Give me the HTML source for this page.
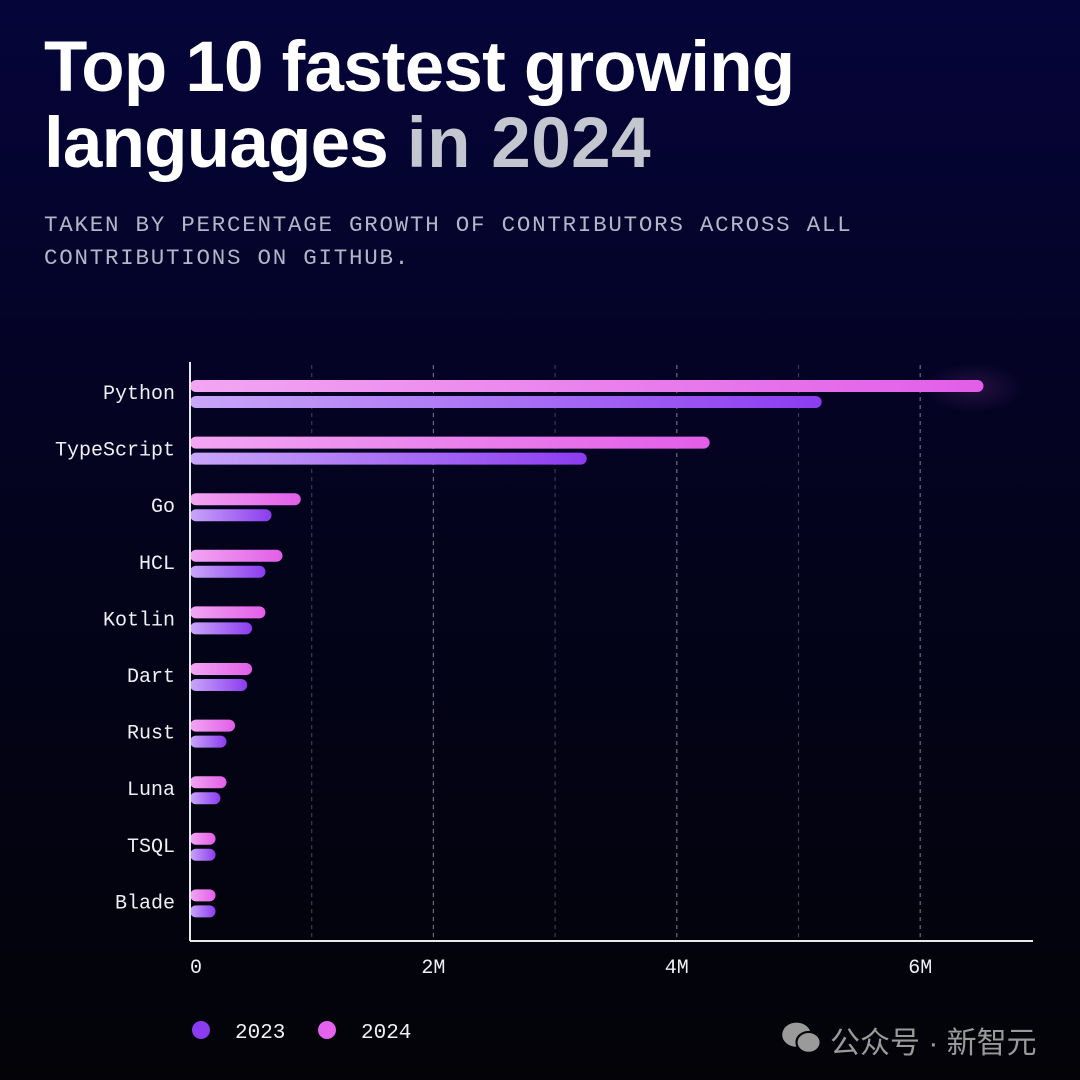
<!DOCTYPE html>
<html><head><meta charset="utf-8"><style>
html,body{margin:0;padding:0}
body{width:1080px;height:1080px;overflow:hidden;background:linear-gradient(180deg,#05053a 0%,#040327 30%,#03031a 55%,#030308 100%);position:relative;font-family:"Liberation Sans",sans-serif}
.title{position:absolute;left:44px;top:30px;color:#fff;font-weight:bold;font-size:71px;line-height:76px;letter-spacing:-0.8px;margin:0}
.title span{color:#c4c6d0;letter-spacing:0.5px}
.sub{position:absolute;left:44px;top:209px;color:#b4b6c8;font-family:"Liberation Mono",monospace;font-size:22.5px;line-height:33px;letter-spacing:1.75px;margin:0}
svg{position:absolute;left:0;top:0}
.wm{position:absolute;left:830px;top:1018px;color:#9a9a9a;font-family:"Liberation Sans","Noto Sans CJK SC",sans-serif;font-size:30px}
.wmi{position:absolute;left:780px;top:1020px;width:44px;height:36px}
</style></head><body>
<h1 class="title">Top 10 fastest growing<br>languages <span>in 2024</span></h1>
<p class="sub">TAKEN BY PERCENTAGE GROWTH OF CONTRIBUTORS ACROSS ALL<br>CONTRIBUTIONS ON GITHUB.</p>
<svg id="chart" width="1080" height="1080">
<defs>
<linearGradient id="g24" x1="0" x2="1" y1="0" y2="0"><stop offset="0" stop-color="#f2a6f2"/><stop offset="1" stop-color="#e25ee8"/></linearGradient>
<linearGradient id="g23" x1="0" x2="1" y1="0" y2="0"><stop offset="0" stop-color="#c9a6f8"/><stop offset="1" stop-color="#8c3cf0"/></linearGradient>
<radialGradient id="glow"><stop offset="0" stop-color="#e060e8" stop-opacity="0.15"/><stop offset="1" stop-color="#e060e8" stop-opacity="0"/></radialGradient>
</defs>
</svg>
<svg class="wmi" viewBox="0 0 40 32"><ellipse cx="15" cy="13" rx="13" ry="11" fill="#9a9a9a"/><ellipse cx="26" cy="20" rx="11" ry="9.5" fill="#9a9a9a" stroke="#050508" stroke-width="2"/></svg>
<div class="wm">公众号 · 新智元</div>
<script>
const categories=["Python","TypeScript","Go","HCL","Kotlin","Dart","Rust","Luna","TSQL","Blade"];
const values2024=[6.52,4.27,0.91,0.76,0.62,0.51,0.37,0.30,0.21,0.21];
const values2023=[5.19,3.26,0.67,0.62,0.51,0.47,0.30,0.25,0.21,0.21];
const tickValues=[0,2,4,6];
const tickLabels=["0","2M","4M","6M"];
const gridValues=[1,2,3,4,5,6];
const svg=document.getElementById('chart');
const NS='http://www.w3.org/2000/svg';
const x0=190,pxPerM=121.7;
const xs=v=>x0+v*pxPerM;
const rowY=i=>392+i*56.6;
function mk(t,a){const e=document.createElementNS(NS,t);for(const k in a)e.setAttribute(k,a[k]);svg.appendChild(e);return e;}
const gl=mk('ellipse',{cx:xs(values2024[0])-10,cy:rowY(0)-4,rx:50,ry:25,fill:'url(#glow)'});


gridValues.forEach(v=>{
  const g=mk('line',{x1:xs(v),x2:xs(v),y1:365,y2:940,stroke:v%2==0?'#6a6a80':'#3a3a50','stroke-width':1.2,'stroke-dasharray':'4 4'});
  
  
});
categories.forEach((c,i)=>{
  const y=rowY(i);
  const t=mk('text',{x:175,y:y+7,'text-anchor':'end',fill:'#f0f0f4','font-size':20,'font-family':'Liberation Mono, monospace'});
  t.textContent=c;
  
  
  const b4=mk('rect',{x:x0,y:y-12,width:xs(values2024[i])-x0,height:12,rx:6,fill:'url(#g24)'});
  
  
  const b3=mk('rect',{x:x0,y:y+4,width:xs(values2023[i])-x0,height:12,rx:6,fill:'url(#g23)'});
  
  
});
const ya=mk('line',{x1:x0,x2:x0,y1:362,y2:941,stroke:'#e8e8ee','stroke-width':2});


const xa=mk('line',{x1:x0,x2:1033,y1:941,y2:941,stroke:'#e8e8ee','stroke-width':2});


tickValues.forEach((v,i)=>{
  const t=mk('text',{x:xs(v),y:973,'text-anchor':v==0?'start':'middle',fill:'#f0f0f4','font-size':20,'font-family':'Liberation Mono, monospace'});
  t.textContent=tickLabels[i];
  
  
});
const legend=[["2023","#8a3cf0",201],["2024","#e563ec",327]];
legend.forEach(l=>{
  const c=mk('circle',{cx:l[2],cy:1030,r:9,fill:l[1]});
  
  
  const t=mk('text',{x:l[2]+34,y:1038,fill:'#f0f0f4','font-size':21,'font-family':'Liberation Mono, monospace'});
  t.textContent=l[0];
  
  
});
</script>
</body></html>
